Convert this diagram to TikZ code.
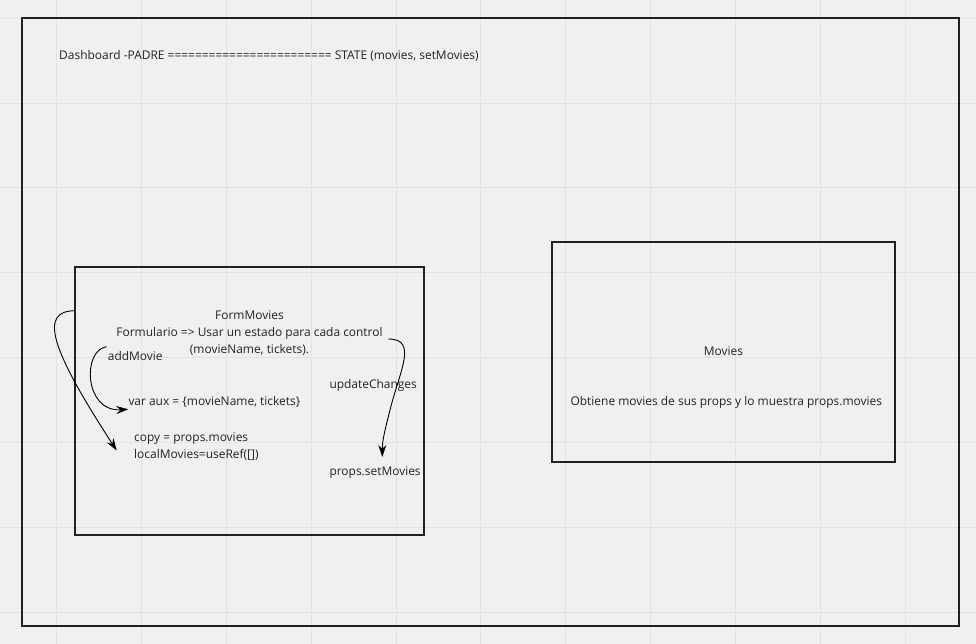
\documentclass[tikz,border=0pt]{standalone}
\usepackage{fontspec}
\setmainfont{Open Sans}
\usetikzlibrary{arrows.meta}
\definecolor{bg}{HTML}{F0F0F0}
\definecolor{gridc}{HTML}{E3E3E3}
\definecolor{framec}{HTML}{222222}
\definecolor{txt}{HTML}{222222}
\begin{document}
\begin{tikzpicture}[x=1pt,y=-1pt,
  frame/.style={draw=framec,line width=2pt},
  lbl/.style={font=\fontsize{11.95}{17}\selectfont,text=txt,inner sep=0pt},
  conn/.style={draw=black,line width=0.9pt,-{Stealth[length=12pt,width=8pt]}}]
\useasboundingbox (0,0) rectangle (976,644);
\fill[bg] (0,0) rectangle (976,644);
% grid
\foreach \i in {0,...,10} {\draw[gridc,line width=1pt] (56.6+84.85*\i,0) -- (56.6+84.85*\i,644);}
\foreach \j in {0,...,7} {\draw[gridc,line width=1pt] (0,18.2+84.85*\j) -- (976,18.2+84.85*\j);}
% frames
\draw[frame] (22,18.3) rectangle (959.3,626);
\draw[frame] (75,267) rectangle (424,535);
\draw[frame] (552.3,242.3) rectangle (895,461.7);
% texts
\node[lbl,anchor=west] (title) at (59,56) {Dashboard -PADRE ======================== STATE (movies, setMovies)};
\node[lbl,align=center] (form) at (249.5,333.3) {FormMovies\\Formulario => Usar un estado para cada control\\(movieName, tickets).};
\node[lbl,anchor=west] (addm) at (107.7,356) {addMovie};
\node[lbl,anchor=west] (aux) at (128.3,401.7) {var aux = \{movieName, tickets\}};
\node[lbl,anchor=west,align=left] (copy) at (134,446.3) {copy = props.movies\\localMovies=useRef([])};
\node[lbl,anchor=west] (upd) at (329.3,385) {updateChanges};
\node[lbl,anchor=west] (setm) at (329.3,472.3) {props.setMovies};
\node[lbl] (movies) at (723.5,350.7) {Movies};
\node[lbl] (obt) at (726.3,402) {Obtiene movies de sus props y lo muestra props.movies};
% connectors
\coordinate (a1s) at (75,310.7);
\coordinate (a1e) at (116.7,450.5);
\draw[conn] (a1s) .. controls (40,311) and (48,345) .. (a1e);
\coordinate (a2s) at (106.7,346.7);
\coordinate (a2e) at (128.3,409.3);
\draw[conn] (a2s) .. controls (82,350) and (84,412) .. (a2e);
\coordinate (a3s) at (388.3,339);
\coordinate (a3e) at (382.3,457);
\draw[conn] (a3s) .. controls (418,339) and (400,370) .. (390,410) .. controls (385,430) and (382.3,440) .. (a3e);
\end{tikzpicture}
\end{document}
